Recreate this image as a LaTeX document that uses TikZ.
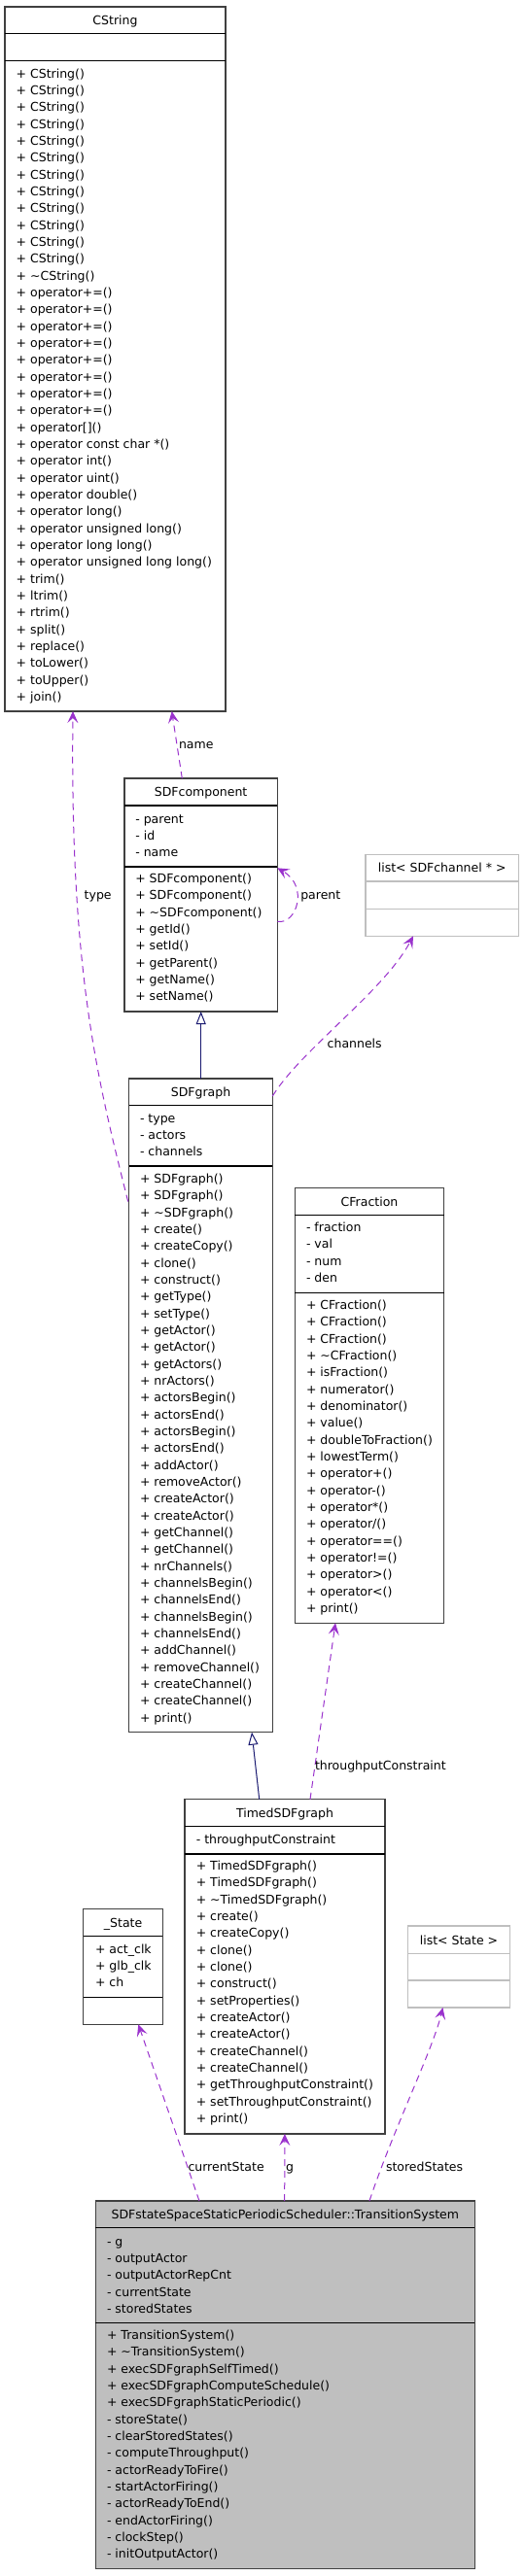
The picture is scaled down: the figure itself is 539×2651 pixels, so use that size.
\documentclass[tikz,border=0pt]{standalone}
\usepackage{fontspec}
\setmainfont{DejaVu Sans}
\usetikzlibrary{arrows.meta,calc}
\definecolor{usecol}{HTML}{9A32CD}
\definecolor{inhcol}{HTML}{191970}
\definecolor{bordercol}{HTML}{404040}
\definecolor{graycol}{HTML}{BFBFBF}
\tikzset{
  boxplain/.style={draw=bordercol, fill=white, line width=1.1pt, inner sep=0pt, outer sep=0pt, anchor=north west},
  sepplain/.style={draw=black, line width=1.1pt},
  boxgray/.style={draw=graycol, fill=white, line width=1.1pt, inner sep=0pt, outer sep=0pt, anchor=north west},
  sepgray/.style={draw=graycol, line width=1.1pt},
  boxfill/.style={draw=bordercol, fill=graycol, line width=1.1pt, inner sep=0pt, outer sep=0pt, anchor=north west},
  sepfill/.style={draw=black, line width=1.1pt},
  txt/.style={anchor=base west, inner sep=0pt, outer sep=0pt, font=\fontsize{12.5}{15}\selectfont},
  ttl/.style={anchor=base, inner sep=0pt, outer sep=0pt, font=\fontsize{12.5}{15}\selectfont},
  uses/.style={draw=usecol, line width=1pt, dash pattern=on 7pt off 5pt,
    -{Stealth[length=12pt,width=11pt,inset=5pt]}},
  inh/.style={draw=inhcol, line width=1pt, -{Triangle[open,length=13pt,width=10pt,fill=white]}}
}
% #1 name, #2 x1, #3 y1, #4 x2, #5 y2, #6 sep1, #7 sep2, #8 kind, #9 title
\newcommand\myclass[9]{%
  \node[box#8, minimum width={(#4-#2)*1pt}, minimum height={(#5-#3)*1pt}] (#1) at (#2,#3) {};
  \draw[sep#8] ($(#1.north west)+(0,{#6-#3})$) -- ($(#1.north east)+(0,{#6-#3})$);
  \draw[sep#8] ($(#1.north west)+(0,{#7-#3})$) -- ($(#1.north east)+(0,{#7-#3})$);
  \node[ttl] (#1-title) at ($(#1.north)+(0,{#6-#3-9.3})$) {#9};
}
% #1 name prefix, #2 x, #3 first line centre y, #4 list
\newcommand\mylines[4]{%
  \foreach \t [count=\i from 0] in {#4} {
    \node[txt, name=#1\i] at (#2, {#3+4.3+\i*17.33}) {\t};
  }
}
\begin{document}
\begin{tikzpicture}[x=1pt,y=-1pt]
\useasboundingbox[fill=white] (0,0) rectangle (539,2651);

% CString
\myclass{cs}{5}{7}{232}{732}{34.3}{62.3}{plain}{CString}
\mylines{csm}{16.7}{76}{{+ CString()},{+ CString()},{+ CString()},{+ CString()},{+ CString()},{+ CString()},{+ CString()},{+ CString()},{+ CString()},{+ CString()},{+ CString()},{+ CString()},{+ \textasciitilde CString()},{+ operator+=()},{+ operator+=()},{+ operator+=()},{+ operator+=()},{+ operator+=()},{+ operator+=()},{+ operator+=()},{+ operator+=()},{+ operator[]()},{+ operator const char *()},{+ operator int()},{+ operator uint()},{+ operator double()},{+ operator long()},{+ operator unsigned long()},{+ operator long long()},{+ operator unsigned long long()},{+ trim()},{+ ltrim()},{+ rtrim()},{+ split()},{+ replace()},{+ toLower()},{+ toUpper()},{+ join()}}

% SDFcomponent
\myclass{sdfc}{128}{801}{285.3}{1041}{829}{892}{plain}{SDFcomponent}
\mylines{sdfca}{139.3}{842.7}{{- parent},{- id},{- name}}
\mylines{sdfcm}{139.3}{904.3}{{+ SDFcomponent()},{+ SDFcomponent()},{+ \textasciitilde SDFcomponent()},{+ getId()},{+ setId()},{+ getParent()},{+ getName()},{+ setName()}}

% list< SDFchannel * >
\myclass{lsc}{376}{879.3}{533.3}{963.3}{907}{935.3}{gray}{list< SDFchannel * >}

% SDFgraph
\myclass{sdfg}{132.7}{1110}{280.3}{1782.7}{1137.7}{1200}{plain}{SDFgraph}
\mylines{sdfga}{144}{1151}{{- type},{- actors},{- channels}}
\mylines{sdfgm}{144}{1213.3}{{+ SDFgraph()},{+ SDFgraph()},{+ \textasciitilde SDFgraph()},{+ create()},{+ createCopy()},{+ clone()},{+ construct()},{+ getType()},{+ setType()},{+ getActor()},{+ getActor()},{+ getActors()},{+ nrActors()},{+ actorsBegin()},{+ actorsEnd()},{+ actorsBegin()},{+ actorsEnd()},{+ addActor()},{+ removeActor()},{+ createActor()},{+ createActor()},{+ getChannel()},{+ getChannel()},{+ nrChannels()},{+ channelsBegin()},{+ channelsEnd()},{+ channelsBegin()},{+ channelsEnd()},{+ addChannel()},{+ removeChannel()},{+ createChannel()},{+ createChannel()},{+ print()}}

% CFraction
\myclass{cf}{303.3}{1222.7}{456.7}{1670.3}{1250.5}{1330.5}{plain}{CFraction}
\mylines{cfa}{315}{1263.3}{{- fraction},{- val},{- num},{- den}}
\mylines{cfm}{315}{1343.3}{{+ CFraction()},{+ CFraction()},{+ CFraction()},{+ \textasciitilde CFraction()},{+ isFraction()},{+ numerator()},{+ denominator()},{+ value()},{+ doubleToFraction()},{+ lowestTerm()},{+ operator+()},{+ operator-()},{+ operator*()},{+ operator/()},{+ operator==()},{+ operator!=()},{+ operator>()},{+ operator<()},{+ print()}}

% TimedSDFgraph
\myclass{tsg}{190}{1851.7}{396}{2196}{1879.3}{1908}{plain}{TimedSDFgraph}
\mylines{tsga}{201.8}{1892.7}{{- throughputConstraint}}
\mylines{tsgm}{201.8}{1920.3}{{+ TimedSDFgraph()},{+ TimedSDFgraph()},{+ \textasciitilde TimedSDFgraph()},{+ create()},{+ createCopy()},{+ clone()},{+ clone()},{+ construct()},{+ setProperties()},{+ createActor()},{+ createActor()},{+ createChannel()},{+ createChannel()},{+ getThroughputConstraint()},{+ setThroughputConstraint()},{+ print()}}

% _State
\myclass{st}{85.9}{1964.7}{167.4}{2083.3}{1992.3}{2055.3}{plain}{\_State}
\mylines{sta}{98}{2005.7}{{+ act\_clk},{+ glb\_clk},{+ ch}}

% list< State >
\myclass{ls}{419.4}{1982}{524.6}{2066}{2010.3}{2038}{gray}{list< State >}

% TransitionSystem
\myclass{ts}{98.3}{2265}{488.3}{2643.3}{2292.7}{2390.7}{fill}{SDFstateSpaceStaticPeriodicScheduler::TransitionSystem}
\mylines{tsa}{110}{2306.7}{{- g},{- outputActor},{- outputActorRepCnt},{- currentState},{- storedStates}}
\mylines{tsm}{110}{2403.3}{{+ TransitionSystem()},{+ \textasciitilde TransitionSystem()},{+ execSDFgraphSelfTimed()},{+ execSDFgraphComputeSchedule()},{+ execSDFgraphStaticPeriodic()},{- storeState()},{- clearStoredStates()},{- computeThroughput()},{- actorReadyToFire()},{- startActorFiring()},{- actorReadyToEnd()},{- endActorFiring()},{- clockStep()},{- initOutputActor()}}

% connectors
\draw[uses] ($(sdfc.north west)+(59.3,0)$) -- ($(cs.south west)+(171.7,0)$);
\node[txt] (lname) at (184,770) {name};

\draw[uses] ($(sdfc.north east)+(0,147.3)$) .. controls (305,952) and (318,912) .. ($(sdfc.north east)+(0,92.3)$);
\node[txt] (lparent) at (309.3,925) {parent};

\draw[uses] ($(sdfg.north west)+(-1,126.5)$) .. controls (100,1110) and (72,1000) .. ($(cs.south west)+(70,0)$);
\node[txt] (ltype) at (86.7,925) {type};

\draw[uses] ($(sdfg.north east)+(0,18)$) .. controls (310,1080) and (395,1020) .. ($(lsc.south west)+(49,0)$);
\node[txt] (lchan) at (336.7,1078.6) {channels};

\draw[inh] ($(sdfg.north west)+(74,0)$) -- ($(sdfc.south west)+(78.7,0)$);
\draw[inh] ($(tsg.north west)+(76.7,0)$) -- ($(sdfg.south west)+(126.3,0)$);

\draw[uses] ($(tsg.north west)+(129,0)$) -- ($(cf.south west)+(41.7,0)$);
\node[txt] (lthr) at (324,1821) {throughputConstraint};

\draw[uses] ($(ts.north west)+(106.7,0)$) -- ($(st.south west)+(56.4,0)$);
\node[txt] (lcur) at (193.5,2234.3) {currentState};

\draw[uses] ($(ts.north west)+(194.4,0)$) -- ($(tsg.south west)+(102.9,0)$);
\node[txt] (lg) at (294,2234.3) {g};

\draw[uses] ($(ts.north west)+(281.7,0)$) .. controls (405,2190) and (445,2110) .. ($(ls.south west)+(36.1,0)$);
\node[txt] (lstored) at (397,2234.3) {storedStates};
\end{tikzpicture}
\end{document}
